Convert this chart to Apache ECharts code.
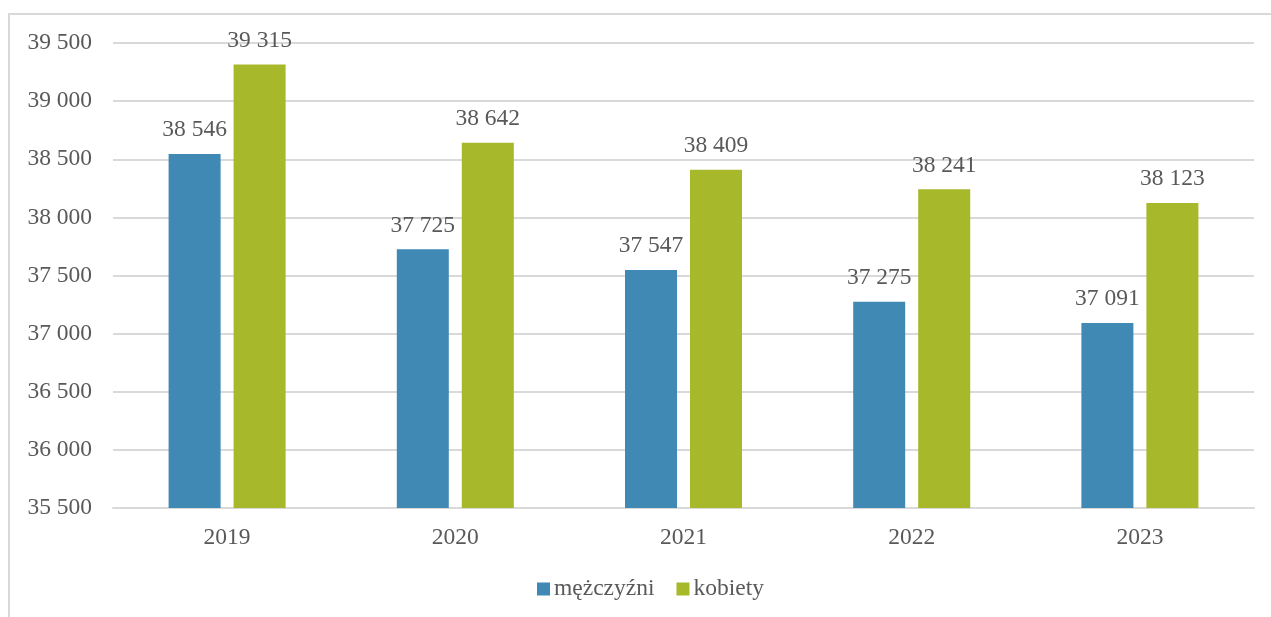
<!DOCTYPE html>
<html>
<head>
<meta charset="utf-8">
<script src="https://cdn.jsdelivr.net/npm/echarts@6/dist/echarts.min.js"></script>
<style>
  html, body { margin: 0; padding: 0; background: #fff; }
  #chart { width: 1271px; height: 617px; }
</style>
</head>
<body>
<div id="chart"></div>
<script>
const years = ['2019', '2020', '2021', '2022', '2023'];
const men = [38546, 37725, 37547, 37275, 37091];
const women = [39315, 38642, 38409, 38241, 38123];
const seriesNames = ['mężczyźni', 'kobiety'];

const fmt = v => String(v).replace(/\B(?=(\d{3})+(?!\d))/g, ' ');
const font = '"Liberation Serif", "DejaVu Serif", serif';
const textColor = '#595959';
const fs = 23.5;

const chart = echarts.init(document.getElementById('chart'));

const barLabel = {
  show: true,
  position: 'top',
  distance: 12,
  fontFamily: font,
  fontSize: fs,
  color: textColor,
  formatter: p => fmt(p.value)
};

chart.setOption({
  animation: false,
  textStyle: { fontFamily: font },
  graphic: [{
    type: 'rect',
    shape: { x: 9, y: 14, width: 1400, height: 800 },
    style: { fill: 'none', stroke: '#d9d9d9', lineWidth: 2 }
  }],
  grid: { left: 113, right: 17, top: 43, bottom: 109 },
  legend: {
    bottom: 11,
    left: 532,
    itemWidth: 13,
    itemHeight: 13,
    itemGap: 22,
    icon: 'rect',
    textStyle: { fontFamily: font, fontSize: fs, color: textColor, padding: [0, 0, 0, -1] },
    data: seriesNames
  },
  xAxis: {
    type: 'category',
    data: years,
    axisTick: { show: false },
    axisLine: { lineStyle: { color: '#d9d9d9', width: 2 } },
    axisLabel: { fontFamily: font, fontSize: fs, color: textColor, margin: 18 }
  },
  yAxis: {
    type: 'value',
    min: 35500,
    max: 39500,
    interval: 500,
    axisLine: { show: false },
    axisTick: { show: false },
    splitLine: { lineStyle: { color: '#d9d9d9', width: 2 } },
    axisLabel: { fontFamily: font, fontSize: fs, color: textColor, margin: 21, formatter: fmt }
  },
  series: [
    {
      name: seriesNames[0],
      type: 'bar',
      data: men,
      barWidth: 52,
      barGap: '25%',
      itemStyle: { color: '#3f89b4' },
      label: barLabel
    },
    {
      name: seriesNames[1],
      type: 'bar',
      data: women,
      barWidth: 52,
      barGap: '25%',
      itemStyle: { color: '#a7b82a' },
      label: barLabel
    }
  ]
});

window.addEventListener('resize', () => chart.resize());
</script>
</body>
</html>
